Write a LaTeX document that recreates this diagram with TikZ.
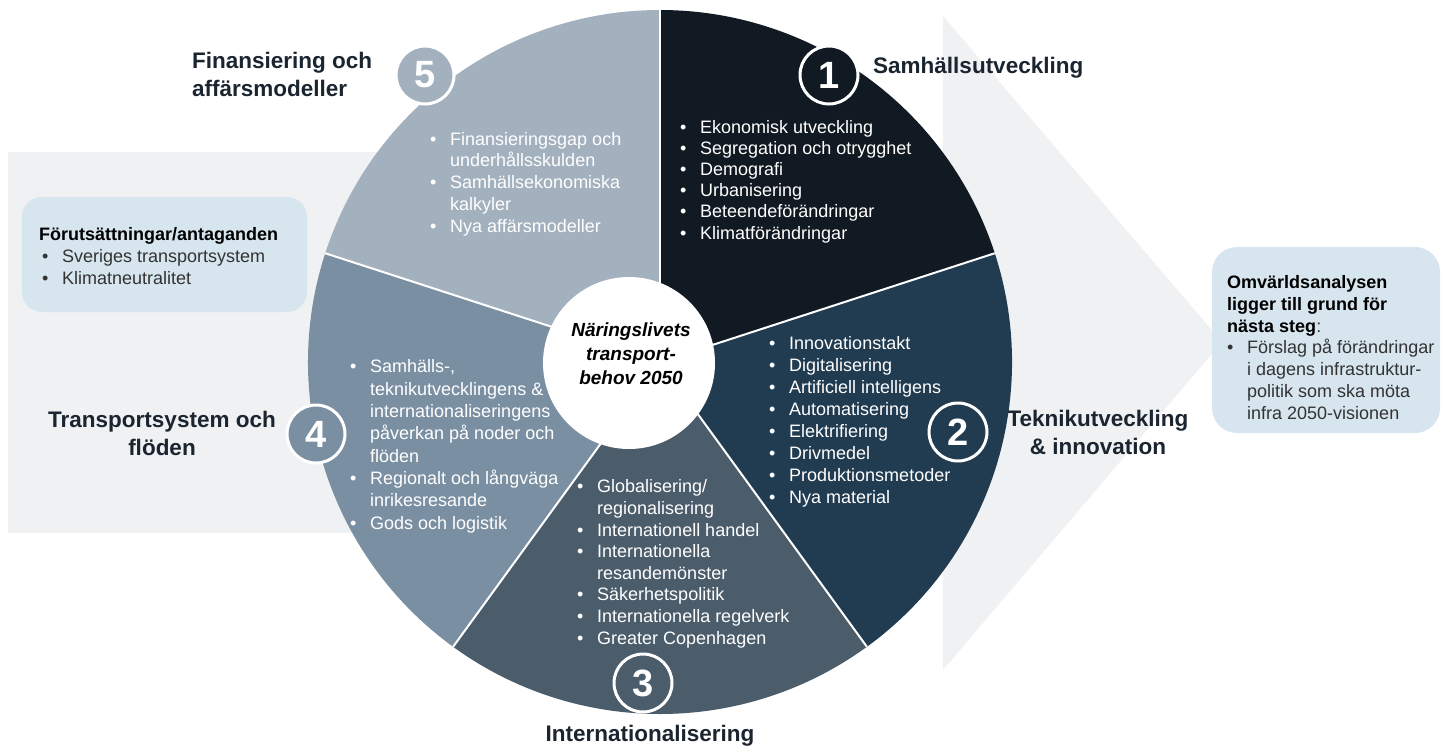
\documentclass[tikz,border=0pt]{standalone}
\usepackage{fontspec}
\setmainfont{Liberation Sans}
\usetikzlibrary{positioning}

\definecolor{tonA}{HTML}{111A22}
\definecolor{tonB}{HTML}{213B50}
\definecolor{tonC}{HTML}{4B5C6B}
\definecolor{tonD}{HTML}{7B8FA3}
\definecolor{tonE}{HTML}{A3B1BF}
\definecolor{boxblue}{HTML}{D6E5EE}
\definecolor{bggray}{HTML}{F0F1F3}
\definecolor{titlec}{HTML}{1B2530}
\definecolor{bodyc}{HTML}{333333}

\newcommand{\itemdot}{\makebox[20pt][l]{\textbullet}}
\newcommand{\itemgap}{\hspace*{20pt}}

\tikzset{
  segtext/.style={text=white, font=\fontsize{18}{21.7}\selectfont, align=left, anchor=base west, inner sep=0pt},
  title/.style={text=titlec, font=\fontsize{22.5}{28}\selectfont\bfseries, inner sep=0pt},
  numring/.style={circle, draw=white, line width=3pt, minimum size=58pt, inner sep=0pt, text=white, font=\fontsize{38}{38}\selectfont\bfseries},
  infobox/.style={fill=boxblue, rounded corners=20pt},
  boxtext/.style={text=bodyc, font=\fontsize{18}{21.7}\selectfont, align=left, anchor=base west, inner sep=0pt},
}

\begin{document}
\begin{tikzpicture}[x=1pt, y=-1pt]
  \useasboundingbox (0,0) rectangle (1453,747);

  % Background shapes
  \fill[bggray] (8,152) rectangle (660,533);
  \fill[bggray] (943,16) -- (1222,342) -- (943,670) -- cycle;

  % Pie wedges
  \coordinate (O) at (660,362);
  \foreach \a/\c in {270/tonA, 342/tonB, 54/tonC, 126/tonD, 198/tonE} {
    \fill[\c] (O) -- ++(\a:352) arc[start angle=\a, end angle=\a+72, radius=352] -- cycle;
  }
  \foreach \a in {270, 342, 54, 126, 198} {
    \draw[white, line width=2pt] (O) -- ++(\a:352);
  }

  % Centre
  \fill[white] (629,363) circle[radius=86];
  \node[font=\fontsize{19}{24}\selectfont\bfseries\itshape, align=center] (core) at (631,354)
    {Näringslivets\\transport-\\behov 2050};

  % Numbered rings
  \node[numring, fill=tonE] (n5) at (425,75) {5};
  \node[numring, fill=tonA] (n1) at (829,75) {1};
  \node[numring, fill=tonB] (n2) at (958,432) {2};
  \node[numring, fill=tonC] (n3) at (643,683) {3};
  \node[numring, fill=tonD] (n4) at (316,434) {4};

  % Segment texts (anchored at the last baseline)
  \node[segtext, font=\fontsize{18}{21.2}\selectfont] (s1) at (680,239) {\itemdot Ekonomisk utveckling\\\itemdot Segregation och otrygghet\\\itemdot Demografi\\\itemdot Urbanisering\\\itemdot Beteendeförändringar\\\itemdot Klimatförändringar};
  \node[segtext] (s5) at (430,232) {\itemdot Finansieringsgap och\\\itemgap underhållsskulden\\\itemdot Samhällsekonomiska\\\itemgap kalkyler\\\itemdot Nya affärsmodeller};
  \node[segtext, font=\fontsize{18}{21.9}\selectfont] (s2) at (769,503) {\itemdot Innovationstakt\\\itemdot Digitalisering\\\itemdot Artificiell intelligens\\\itemdot Automatisering\\\itemdot Elektrifiering\\\itemdot Drivmedel\\\itemdot Produktionsmetoder\\\itemdot Nya material};
  \node[segtext, font=\fontsize{18}{21.6}\selectfont] (s3) at (577,644) {\itemdot Globalisering/\\\itemgap regionalisering\\\itemdot Internationell handel\\\itemdot Internationella\\\itemgap resandemönster\\\itemdot Säkerhetspolitik\\\itemdot Internationella regelverk\\\itemdot Greater Copenhagen};
  \node[segtext, font=\fontsize{18}{22.3}\selectfont] (s4) at (350,529) {\itemdot Samhälls-,\\\itemgap teknikutvecklingens \&\\\itemgap internationaliseringens\\\itemgap påverkan på noder och\\\itemgap flöden\\\itemdot Regionalt och långväga\\\itemgap inrikesresande\\\itemdot Gods och logistik};

  % Titles
  \node[title, align=left, anchor=base west] (t5) at (192,96) {Finansiering och\\affärsmodeller};
  \node[title, anchor=base west] (t1) at (873,73) {Samhällsutveckling};
  \node[title, align=center, anchor=base] (t2) at (1098,454) {Teknikutveckling\\\& innovation};
  \node[title, align=center, anchor=base] (t4) at (162,455) {Transportsystem och\\flöden};
  \node[title, anchor=base] (t3) at (650,741) {Internationalisering};

  % Info boxes
  \fill[infobox] (22,197) rectangle (307,312);
  \node[boxtext] (pre) at (39,284) {\textbf{\color{black}Förutsättningar/antaganden}\\\hspace*{3pt}\itemdot Sveriges transportsystem\\\hspace*{3pt}\itemdot Klimatneutralitet};
  \fill[infobox, rounded corners=25pt] (1212,247) rectangle (1440,433);
  \node[boxtext] (next) at (1227,419) {\textbf{\color{black}Omvärldsanalysen}\\\textbf{\color{black}ligger till grund för}\\\textbf{\color{black}nästa steg}:\\\itemdot Förslag på förändringar\\\itemgap i dagens infrastruktur-\\\itemgap politik som ska möta\\\itemgap infra 2050-visionen};
\end{tikzpicture}
\end{document}
